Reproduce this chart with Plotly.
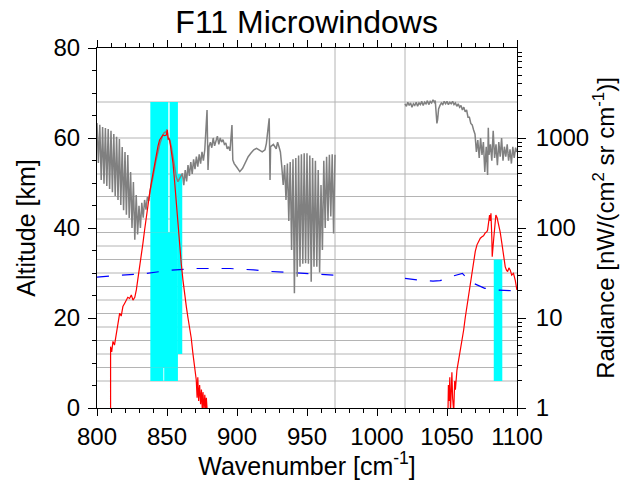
import plotly.graph_objects as go

TITLE = "F11 Microwindows"

# Tangent altitudes (horizontal grid) [km]
tangent_alt = [6, 9, 12, 15, 18, 21, 24, 27, 30, 33, 36, 39, 42, 47, 52, 60, 68]
# Spectral band edges (vertical grid) [cm-1]
band_edges = [970, 1020]

# Microwindows: wavenumber range and altitude range
mw_wn_lo = [838.1, 851.9, 838.1, 838.1, 848.0, 857.8, 1083.4]
mw_wn_hi = [850.9, 857.8, 857.8, 847.4, 857.8, 860.9, 1089.5]
mw_alt_lo = [39, 39, 9, 6, 6, 12, 6]
mw_alt_hi = [68, 68, 39, 9, 9, 52, 33]

# Gray spectrum (radiance), band A
gray_wn_a = [800, 801, 802, 803, 804, 805, 806, 807, 808, 809, 810, 811, 812, 813, 814, 815,
             816, 817, 818, 819, 820, 821, 822, 823, 824, 825, 826, 827, 828, 829, 830, 831,
             832, 833, 834, 835, 836, 837, 838, 839, 840, 842, 843.6, 845, 847.1, 848, 849.5,
             850, 850.7, 851.5, 853.1, 854.7, 856.6, 857.8, 859, 861, 862, 863, 864, 865, 866,
             867, 868, 869, 870, 871, 872, 873, 874, 875, 876, 877, 878.6, 879.3, 880, 881,
             882, 883, 884, 885, 886, 887, 888, 889, 890, 891, 892, 893, 894, 895, 896.4, 897,
             898, 900, 902, 904, 906, 908, 910, 912, 914, 916, 918, 920, 921, 923, 923.6, 924,
             926, 928, 929, 930, 931, 932, 933, 934, 935, 936, 937, 938, 939, 940, 941, 942,
             943, 944, 945, 946, 947, 948, 949, 950, 951, 952, 953, 954, 955, 956, 957, 958,
             959, 960, 961, 962, 963, 964, 965, 966, 967, 968, 969, 970]
gray_r_a = [1468, 528, 1400, 341, 1325, 310, 1292, 293, 1260, 271, 1200, 250, 1108, 227, 1030, 205,
            975, 180, 794, 158, 700, 140, 647, 129, 419, 100, 324, 74, 233, 85, 176, 100,
            190, 130, 205, 160, 221, 200, 260, 300, 371, 550, 736, 880, 1080, 1150, 1175,
            1250, 950, 1000, 800, 570, 371, 327, 360, 405, 300, 440, 330, 500, 380,
            540, 400, 580, 450, 620, 480, 660, 520, 700, 560, 740, 2047, 441, 800, 900,
            780, 1000, 820, 950, 1050, 850, 1000, 900, 960, 850, 880, 760, 800, 720, 1394, 570,
            520, 470, 423, 460, 540, 620, 680, 740, 768, 740, 700, 740, 873, 1656, 341, 800,
            850, 760, 900, 800, 700, 480, 300, 501, 205, 520, 120, 540, 57, 580, 18.8, 600,
            28.8, 640, 37, 660, 40, 677, 40.5, 677, 40, 640, 25.3, 600, 37, 560, 37, 441,
            32, 300, 57, 560, 100, 620, 120, 650, 134, 660, 87, 650]

# Gray spectrum, band B
gray_wn_b = [1020, 1021, 1022, 1023, 1024, 1025, 1026, 1027, 1028, 1029, 1030, 1031, 1032, 1033,
             1034, 1035, 1036, 1037, 1038, 1039, 1040, 1041, 1041.6, 1042.3, 1042.8, 1043.3, 1044,
             1045, 1046, 1047, 1048, 1049, 1050, 1051, 1052, 1053, 1054, 1055, 1056, 1057, 1058,
             1059, 1060, 1061, 1062, 1063, 1064, 1065, 1066, 1067, 1068, 1069, 1070, 1071, 1072,
             1073, 1074, 1075, 1076, 1077, 1078, 1079, 1079.5, 1080, 1081, 1082, 1083, 1084, 1085,
             1086, 1087, 1088, 1089, 1090, 1091, 1092, 1093, 1094, 1095, 1096, 1097, 1098, 1099, 1100]
gray_r_b = [2400, 2250, 2500, 2300, 2450, 2200, 2400, 2300, 2500, 2250, 2450, 2350, 2550, 2300,
            2500, 2400, 2600, 2350, 2550, 2450, 2650, 2500, 2600, 1700, 1456, 1600, 2100,
            2300, 2450, 2350, 2550, 2400, 2550, 2350, 2500, 2400, 2550, 2350, 2450, 2250, 2400,
            2200, 2300, 2050, 2200, 1950, 2047, 1700, 1700, 1450, 1400, 1227, 1100, 700, 950,
            600, 1000, 650, 900, 420, 800, 388, 1300, 650, 850, 560, 1200, 600, 850,
            500, 900, 620, 1000, 560, 800, 620, 850, 560, 750, 520, 800, 600, 780, 700]

# Red spectrum (radiance), band A
red_wn_a = [809.7, 809.7, 810.5, 811.4, 812.5, 813.8, 815, 816.2, 817.3, 818.5, 819.7, 820.9, 822,
            823.3, 824.5, 825.7, 827, 828.1, 829.3, 830.5, 831.7, 832.8, 834, 835.2, 836.4, 837.6,
            838.8, 840, 841.2, 842.4, 843.6, 844.7, 846, 847.1, 848.3, 849.5, 850.2, 850.8, 851.9,
            853.1, 854.3, 855.5, 856.6, 857.8, 859, 860.2, 861.4, 862.6, 863.8, 865, 866.2, 867.3,
            868.5, 869.7, 870.9, 871.5, 872, 872.6, 873.3, 874, 874.6, 875.2, 875.7, 876.4, 877,
            877.6, 878.1, 878.8]
red_r_a = [0.9, 4.8, 4.2, 5.5, 5.0, 6.8, 8.5, 11.3, 10.5, 13.4, 14.5, 15.8, 17.0,
           16.5, 18, 15.8, 17, 20.5, 27, 37, 50, 67.6, 95, 134, 185, 243,
           320, 405, 530, 677, 820, 950, 1040, 1080, 1060, 1080, 1227, 1000, 950,
           720, 524, 320, 188, 110, 62, 40, 26.4, 18, 13.4, 10, 8, 6,
           4.05, 3, 2.05, 1.3, 2.2, 1.2, 1.8, 1.1, 1.6, 0.95, 1.5, 0.95, 1.4,
           0.95, 1.3, 0.9]

# Red spectrum, band B
red_wn_b = [1050.7, 1051, 1051.5, 1052, 1052.5, 1053.5, 1054, 1054.8, 1055.5, 1056, 1057.1, 1058,
            1059.5, 1060.7, 1061.9, 1063, 1064.2, 1065.4, 1066.6, 1067.8, 1069, 1070.2, 1071.4,
            1072.6, 1073.8, 1075, 1076.1, 1077.3, 1078.5, 1079, 1079.6, 1080.4, 1080.9, 1081.4,
            1082, 1082.3, 1083.3, 1084, 1084.9, 1085.8, 1086.8, 1088, 1089.2, 1090.4, 1091.6,
            1092.5, 1093.3, 1094.2, 1095.2, 1096.2, 1097.5, 1098.8, 1099.9]
red_r_b = [0.9, 1.8, 1.2, 2.2, 0.9, 2.5, 1.3, 0.9, 2.0, 1.6, 2.64, 3.2,
           4.05, 5.5, 7.36, 10, 13.4, 18, 24.3, 34, 44, 55, 65,
           72, 77, 80, 82, 88, 91, 95, 110, 139, 120, 146,
           80, 48, 74, 110, 139, 130, 113, 90, 67.6, 50, 37,
           34, 32.8, 36, 34, 30, 31.3, 26, 20.5]

# Blue dashed curve (altitude, km)
blue_wn_a = [800, 817, 835, 852, 870, 885, 895, 905, 912, 921, 931, 940, 948, 957, 965, 970]
blue_alt_a = [29.1, 29.5, 29.9, 30.6, 31.0, 31.0, 31.0, 30.8, 30.7, 30.4, 30.2, 30.1, 30.0, 29.7, 29.6, 29.5]
blue_wn_b = [1020, 1030, 1040, 1045, 1050, 1055, 1061, 1065, 1069, 1077, 1085, 1090, 1095, 1100]
blue_alt_b = [28.8, 28.4, 28.2, 28.3, 28.8, 29.4, 29.9, 28.6, 27.7, 26.6, 26.2, 26.2, 26.1, 26.0]

# Axis ticks
x_ticks = [800, 850, 900, 950, 1000, 1050, 1100]
alt_ticks = [0, 20, 40, 60, 80]
rad_ticks = [1, 10, 100, 1000]
rad_ticktext = ["1", "10", "100", "1000"]
rad_minor = [m * d for d in [1, 10, 100, 1000] for m in range(2, 10)]

FONT = "Liberation Sans, Arial, Helvetica, sans-serif"
GRID = "#b4b4b4"

fig = go.Figure()

fig.add_trace(go.Scatter(x=gray_wn_a, y=gray_r_a, mode="lines", yaxis="y2",
                         line=dict(color="#808080", width=1.5), showlegend=False))
fig.add_trace(go.Scatter(x=gray_wn_b, y=gray_r_b, mode="lines", yaxis="y2",
                         line=dict(color="#808080", width=1.5), showlegend=False))
fig.add_trace(go.Scatter(x=red_wn_a, y=red_r_a, mode="lines", yaxis="y2",
                         line=dict(color="#ff0000", width=1.2), showlegend=False))
fig.add_trace(go.Scatter(x=red_wn_b, y=red_r_b, mode="lines", yaxis="y2",
                         line=dict(color="#ff0000", width=1.2), showlegend=False))
fig.add_trace(go.Scatter(x=blue_wn_a, y=blue_alt_a, mode="lines", yaxis="y",
                         line=dict(color="#0000ff", width=1.2, dash="12px,13px"), showlegend=False))
fig.add_trace(go.Scatter(x=blue_wn_b, y=blue_alt_b, mode="lines", yaxis="y",
                         line=dict(color="#0000ff", width=1.2, dash="12px,13px"), showlegend=False))

shapes = []
for a in tangent_alt:
    shapes.append(dict(type="line", xref="x", yref="y", x0=x_ticks[0], x1=x_ticks[-1], y0=a, y1=a,
                       line=dict(color=GRID, width=1), layer="below"))
for e in band_edges:
    shapes.append(dict(type="line", xref="x", yref="y", x0=e, x1=e, y0=alt_ticks[0], y1=alt_ticks[-1],
                       line=dict(color=GRID, width=1), layer="below"))
for x0, x1, y0, y1 in zip(mw_wn_lo, mw_wn_hi, mw_alt_lo, mw_alt_hi):
    shapes.append(dict(type="rect", xref="x", yref="y", x0=x0, x1=x1, y0=y0, y1=y1,
                       fillcolor="#00ffff", line=dict(width=0), layer="below"))

fig.update_layout(
    width=622, height=480,
    margin=dict(l=97, r=105, t=48, b=72, autoexpand=False),
    paper_bgcolor="white", plot_bgcolor="white",
    font=dict(family=FONT, size=24, color="black"),
    title=dict(text=TITLE, x=0.493, xanchor="center", y=0.955, yanchor="middle",
               font=dict(size=32, color="black")),
    shapes=shapes,
    xaxis=dict(range=[800, 1100], tickvals=x_ticks, showgrid=False, zeroline=False,
               showline=True, linecolor="black", linewidth=1, mirror="ticks",
               ticks="outside", ticklen=7, tickcolor="black", automargin=False,
               ticklabelstandoff=0,
               minor=dict(dtick=10, ticks="outside", ticklen=4, tickcolor="black", showgrid=False),
               title=dict(text="Wavenumber [cm<sup>-1</sup>]", standoff=6, font=dict(size=25)),
               tickfont=dict(size=24)),
    yaxis=dict(range=[0, 80], tickvals=alt_ticks, showgrid=False, zeroline=False,
               showline=True, linecolor="black", linewidth=1, automargin=False,
               ticks="outside", ticklen=8, tickcolor="black", ticklabelstandoff=3,
               minor=dict(dtick=5, ticks="outside", ticklen=4, tickcolor="black", showgrid=False),
               title=dict(text="Altitude [km]", standoff=10, font=dict(size=25)),
               tickfont=dict(size=24)),
    yaxis2=dict(type="log", range=[0, 4], overlaying="y", side="right",
                tickvals=rad_ticks, ticktext=rad_ticktext, showgrid=False, zeroline=False,
                showline=True, linecolor="black", linewidth=1, automargin=False,
                ticks="outside", ticklen=8, tickcolor="black", ticklabelstandoff=5,
                minor=dict(tickmode="array", tickvals=rad_minor, ticks="outside", ticklen=4,
                           tickcolor="black", showgrid=False),
                title=dict(text="Radiance [nW/(cm<sup>2</sup> sr cm<sup>-1</sup>)]", standoff=8,
                           font=dict(size=24)),
                tickfont=dict(size=24)),
)

fig.write_html("out.html")
